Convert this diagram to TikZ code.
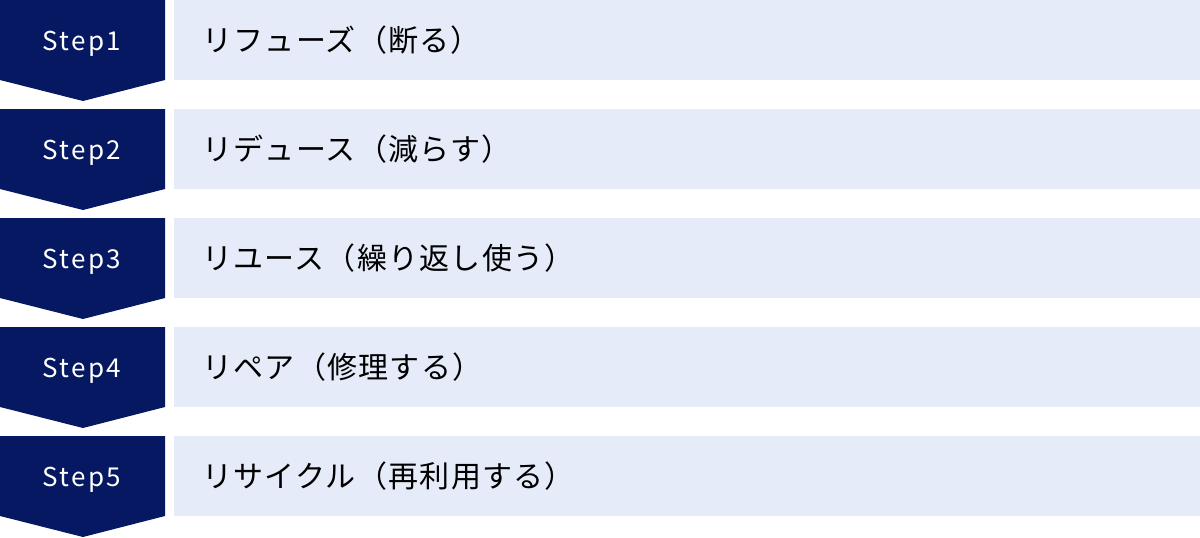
\documentclass[tikz,border=0pt]{standalone}
\usepackage{fontspec}
\setmainfont{Noto Sans CJK JP}
\newfontfamily\stepfont[LetterSpace=9]{Noto Sans CJK JP}
\newfontfamily\descfont[LetterSpace=4.3]{Noto Sans CJK JP}
\definecolor{darknavy}{HTML}{061862}
\definecolor{lightbox}{HTML}{E5EBF8}
\begin{document}
\begin{tikzpicture}[x=1pt,y=-1pt,
  chevron/.style={fill=darknavy,draw=none},
  barbox/.style={fill=lightbox,draw=none},
  steplabel/.style={anchor=base,text=white,font=\stepfont\fontsize{26}{26}\selectfont,inner sep=0pt},
  desc/.style={anchor=west,text=black,font=\descfont\fontsize{30}{30}\selectfont,inner sep=0pt}]
\useasboundingbox (0,0) rectangle (1200,538);
\foreach \i/\t in {1/{リフューズ（断る）},2/{リデュース（減らす）},3/{リユース（繰り返し使う）},4/{リペア（修理する）},5/{リサイクル（再利用する）}}{
  \pgfmathsetmacro{\yy}{(\i-1)*109}
  \fill[chevron] (0,\yy) -- (165,\yy) -- (165,\yy+80) -- (83,\yy+101) -- (0,\yy+80) -- cycle;
  \fill[barbox] (174,\yy) rectangle (1200,\yy+80);
  \node[steplabel] (s\i) at (82,\yy+50) {Step\i};
  \node[desc] (d\i) at (202,\yy+40) {\t};
}
\end{tikzpicture}
\end{document}
